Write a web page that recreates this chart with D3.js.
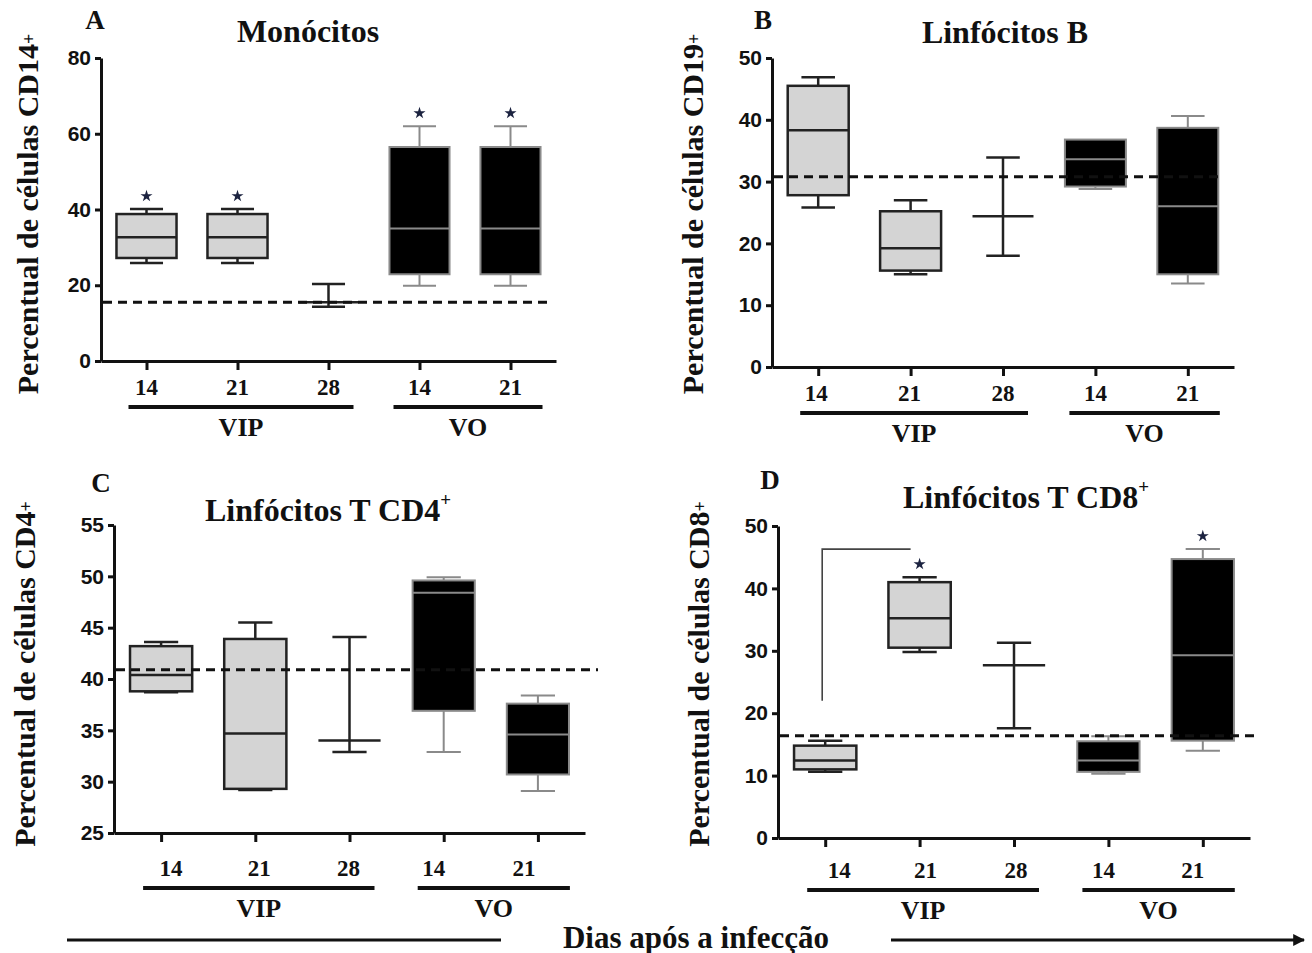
<!DOCTYPE html>
<html>
<head>
<meta charset="utf-8">
<script src="https://cdn.jsdelivr.net/npm/d3@7"></script>
<style>
  body { margin: 0; background: #fff; }
  text { font-family: "Liberation Serif", "Times New Roman", serif; font-weight: bold; fill: #111; }
  .tick text { font-family: "Liberation Sans", Arial, sans-serif; font-size: 21px; font-weight: bold; fill: #111; }
</style>
</head>
<body>
<svg id="fig" width="1312" height="953"></svg>
<script>
// categories (days after infection) and their route groups
const days = ["14", "21", "28", "14", "21"];
const routes = ["VIP", "VIP", "VIP", "VO", "VO"];
const isOral = [false, false, false, true, true];

// A - monocitos CD14+
const monoMin = [25.9, 25.9, 14.3, 19.9, 19.9];
const monoQ1  = [27.2, 27.2, 15.5, 22.9, 22.9];
const monoMed = [32.7, 32.7, 15.5, 35.0, 35.0];
const monoQ3  = [38.8, 38.8, 15.5, 56.5, 56.5];
const monoMax = [40.1, 40.1, 20.3, 62.0, 62.0];
const monoStar = [true, true, false, true, true];
const monoRef = 15.5;
const monoTicks = [0, 20, 40, 60, 80];

// B - linfocitos B CD19+
const cd19Min = [25.8, 15.0, 18.0, 28.8, 13.5];
const cd19Q1  = [27.8, 15.6, 24.4, 29.2, 15.0];
const cd19Med = [38.3, 19.2, 24.4, 33.6, 26.0];
const cd19Q3  = [45.5, 25.2, 24.4, 36.8, 38.7];
const cd19Max = [46.9, 27.0, 33.9, 36.8, 40.6];
const cd19Star = [false, false, false, false, false];
const cd19Ref = 30.8;
const cd19Ticks = [0, 10, 20, 30, 40, 50];

// C - linfocitos T CD4+
const cd4Min = [38.7, 29.2, 32.9, 32.9, 29.1];
const cd4Q1  = [38.8, 29.3, 34.0, 36.9, 30.7];
const cd4Med = [40.4, 34.7, 34.0, 48.4, 34.6];
const cd4Q3  = [43.2, 43.9, 34.0, 49.6, 37.6];
const cd4Max = [43.6, 45.5, 44.1, 49.9, 38.4];
const cd4Star = [false, false, false, false, false];
const cd4Ref = 40.9;
const cd4Ticks = [25, 30, 35, 40, 45, 50, 55];

// D - linfocitos T CD8+
const cd8Min = [10.6, 29.8, 17.6, 10.3, 14.0];
const cd8Q1  = [11.0, 30.5, 27.7, 10.6, 15.6];
const cd8Med = [12.4, 35.2, 27.7, 12.4, 29.3];
const cd8Q3  = [14.8, 41.0, 27.7, 15.5, 44.7];
const cd8Max = [15.6, 41.8, 31.3, 16.3, 46.3];
const cd8Star = [false, true, false, false, true];
const cd8Ref = 16.4;
const cd8Ticks = [0, 10, 20, 30, 40, 50];
// comparison bracket in D: from category 0 to 1, leg bottom / top values
const cd8Bracket = {from: 0, to: 1, low: 22.0, high: 46.3};

const panels = [
  {letter: "A", title: ["Monócitos"], ylab: "CD14", min: monoMin, q1: monoQ1, med: monoMed, q3: monoQ3, max: monoMax,
   star: monoStar, ref: monoRef, ticks: monoTicks, domain: [0, 80],
   x0: 101, x1: 556, yTop: 58, yBot: 361, dashEnd: 549, catDy: 26, lineDy: 46, grpDy: 66,
   catShift: [0, 0, 0, 0, 0],
   letterPos: [95, 20], titlePos: [308, 31], ylabPos: [27, 214]},
  {letter: "B", title: ["Linfócitos B"], ylab: "CD19", min: cd19Min, q1: cd19Q1, med: cd19Med, q3: cd19Q3, max: cd19Max,
   star: cd19Star, ref: cd19Ref, ticks: cd19Ticks, domain: [0, 50],
   x0: 772, x1: 1234, yTop: 58, yBot: 367, dashEnd: 1223, catDy: 26, lineDy: 46, grpDy: 66,
   catShift: [-2, -1, 0, 0, 0],
   letterPos: [763, 20], titlePos: [1005, 32], ylabPos: [692, 214]},
  {letter: "C", title: ["Linfócitos T CD4", "+"], ylab: "CD4", min: cd4Min, q1: cd4Q1, med: cd4Med, q3: cd4Q3, max: cd4Max,
   star: cd4Star, ref: cd4Ref, ticks: cd4Ticks, domain: [25, 55],
   x0: 114, x1: 585, yTop: 525, yBot: 833, dashEnd: 598, catDy: 35, lineDy: 55, grpDy: 75,
   catShift: [10, 4, -1, -10, -14],
   letterPos: [101, 483], titlePos: [328, 510], ylabPos: [24, 674]},
  {letter: "D", title: ["Linfócitos T CD8", "+"], ylab: "CD8", min: cd8Min, q1: cd8Q1, med: cd8Med, q3: cd8Q3, max: cd8Max,
   star: cd8Star, ref: cd8Ref, ticks: cd8Ticks, domain: [0, 50], bracket: cd8Bracket,
   x0: 778, x1: 1250, yTop: 526, yBot: 838, dashEnd: 1257, catDy: 32, lineDy: 52, grpDy: 72,
   catShift: [14, 6, 2, -5, -10],
   letterPos: [770, 480], titlePos: [1026, 497], ylabPos: [698, 674]}
];

const svg = d3.select("#fig");

function drawPanel(p) {
  const g = svg.append("g");
  const y = d3.scaleLinear().domain(p.domain).range([p.yBot, p.yTop]);
  const x = d3.scalePoint().domain(d3.range(days.length)).range([p.x0, p.x1]).padding(0.5);
  const step = x.step();
  const bw = step * 0.66, cw = bw * 0.55;

  // axes
  const ya = g.append("g").attr("transform", `translate(${p.x0},0)`)
    .call(d3.axisLeft(y).tickValues(p.ticks).tickSize(6).tickSizeOuter(0).tickPadding(4));
  const xa = g.append("g").attr("transform", `translate(0,${p.yBot})`)
    .call(d3.axisBottom(x).tickSize(9).tickSizeOuter(0).tickFormat(""));
  [ya, xa].forEach(a => {
    a.select(".domain").attr("stroke", "#111").attr("stroke-width", 3);
    a.selectAll(".tick line").attr("stroke", "#111").attr("stroke-width", 3);
  });

  // boxes
  days.forEach((d, i) => {
    const cx = x(i);
    const dark = isOral[i];
    const lc = dark ? "#8a8a8a" : "#222";
    const sw = dark ? 2 : 2.5;
    // whiskers
    [[p.q3[i], p.max[i]], [p.q1[i], p.min[i]]].forEach(([a, b]) => {
      if (Math.abs(y(a) - y(b)) < 0.5) return;
      g.append("line").attr("x1", cx).attr("x2", cx).attr("y1", y(a)).attr("y2", y(b))
        .attr("stroke", lc).attr("stroke-width", sw);
      g.append("line").attr("x1", cx - cw / 2).attr("x2", cx + cw / 2).attr("y1", y(b)).attr("y2", y(b))
        .attr("stroke", lc).attr("stroke-width", sw);
    });
    if (p.q3[i] > p.q1[i]) {
      g.append("rect").attr("x", cx - bw / 2).attr("width", bw)
        .attr("y", y(p.q3[i])).attr("height", y(p.q1[i]) - y(p.q3[i]))
        .attr("fill", dark ? "#000" : "#d4d4d4").attr("stroke", lc).attr("stroke-width", sw);
    }
    g.append("line").attr("x1", cx - bw / 2).attr("x2", cx + bw / 2)
      .attr("y1", y(p.med[i])).attr("y2", y(p.med[i]))
      .attr("stroke", lc).attr("stroke-width", sw);
    if (p.star[i]) {
      g.append("path").attr("d", d3.symbol(d3.symbolStar, 45)())
        .attr("transform", `translate(${cx},${y(p.max[i]) - 13})`)
        .attr("fill", "#1c2340");
    }
  });

  // bracket
  if (p.bracket) {
    const b = p.bracket;
    g.append("path")
      .attr("d", `M${x(b.from) - 3},${y(b.low)}V${y(b.high)}H${x(b.to) - 9}`)
      .attr("fill", "none").attr("stroke", "#444").attr("stroke-width", 1.6);
  }

  // reference (control) dashed line
  g.append("line").attr("x1", p.x0 + 2).attr("x2", p.dashEnd)
    .attr("y1", y(p.ref)).attr("y2", y(p.ref))
    .attr("stroke", "#111").attr("stroke-width", 3).attr("stroke-dasharray", "9,6");

  // category labels
  days.forEach((d, i) => {
    g.append("text").attr("x", x(i) + p.catShift[i]).attr("y", p.yBot + p.catDy)
      .attr("text-anchor", "middle").attr("dominant-baseline", "central")
      .attr("font-size", 23).text(d);
  });

  // group lines and labels
  const grp = [["VIP", x(0) - 18, x(2) + 25], ["VO", x(3) - 26, x(4) + 32]];
  grp.forEach(([name, a, b]) => {
    g.append("line").attr("x1", a).attr("x2", b)
      .attr("y1", p.yBot + p.lineDy).attr("y2", p.yBot + p.lineDy)
      .attr("stroke", "#111").attr("stroke-width", 4);
    g.append("text").attr("x", (a + b) / 2).attr("y", p.yBot + p.grpDy)
      .attr("text-anchor", "middle").attr("dominant-baseline", "central")
      .attr("font-size", 26).text(name);
  });

  // letter, title, y label
  g.append("text").attr("x", p.letterPos[0]).attr("y", p.letterPos[1])
    .attr("text-anchor", "middle").attr("dominant-baseline", "central")
    .attr("font-size", 27).text(p.letter);
  const t = g.append("text").attr("x", p.titlePos[0]).attr("y", p.titlePos[1])
    .attr("text-anchor", "middle").attr("dominant-baseline", "central")
    .attr("font-size", 32);
  t.append("tspan").text(p.title[0]);
  if (p.title[1]) t.append("tspan").attr("dy", -11).attr("font-size", 19).text(p.title[1]);

  const yl = g.append("text")
    .attr("transform", `translate(${p.ylabPos[0]},${p.ylabPos[1]}) rotate(-90)`)
    .attr("text-anchor", "middle").attr("dominant-baseline", "central")
    .attr("font-size", 30);
  yl.append("tspan").text("Percentual de células " + p.ylab);
  yl.append("tspan").attr("dy", 2).attr("font-size", 18).text("+");
}

panels.forEach(drawPanel);

// shared x-axis caption with arrow
svg.append("defs").append("marker").attr("id", "arr")
  .attr("viewBox", "0 0 10 10").attr("refX", 9).attr("refY", 5)
  .attr("markerWidth", 4).attr("markerHeight", 4).attr("orient", "auto")
  .append("path").attr("d", "M0,0L10,5L0,10Z").attr("fill", "#111");
svg.append("line").attr("x1", 67).attr("x2", 501).attr("y1", 940).attr("y2", 940)
  .attr("stroke", "#111").attr("stroke-width", 3);
svg.append("line").attr("x1", 891).attr("x2", 1304).attr("y1", 940).attr("y2", 940)
  .attr("stroke", "#111").attr("stroke-width", 3).attr("marker-end", "url(#arr)");
svg.append("text").attr("x", 696).attr("y", 937)
  .attr("text-anchor", "middle").attr("dominant-baseline", "central")
  .attr("font-size", 31).text("Dias após a infecção");
</script>
</body>
</html>
